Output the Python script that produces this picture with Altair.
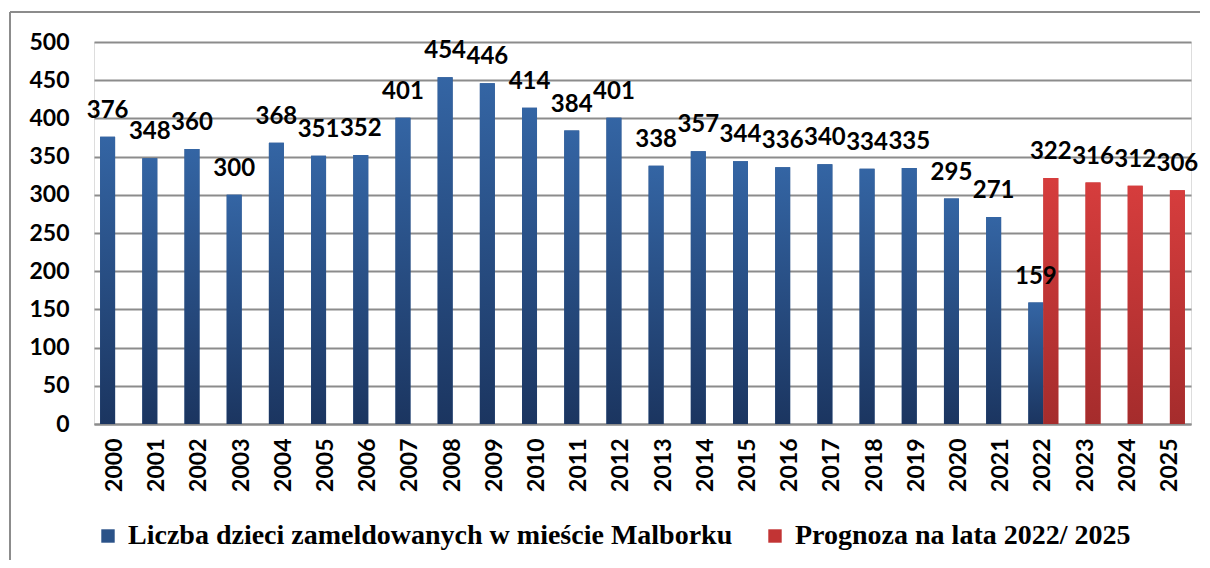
import altair as alt
import pandas as pd

years_blue = [str(y) for y in range(2000, 2023)]
values_blue = [376, 348, 360, 300, 368, 351, 352, 401, 454, 446, 414, 384, 401,
               338, 357, 344, 336, 340, 334, 335, 295, 271, 159]
years_red = ["2022", "2023", "2024", "2025"]
values_red = [322, 316, 312, 306]
series_names = ["Liczba dzieci zameldowanych w mieście Malborku",
                "Prognoza na lata 2022/ 2025"]
all_years = [str(y) for y in range(2000, 2026)]

df = pd.DataFrame({
    "Rok": years_blue + years_red,
    "Liczba": values_blue + values_red,
    "Seria": [series_names[0]] * len(years_blue) + [series_names[1]] * len(years_red),
})

blue_grad = alt.Gradient(gradient="linear", x1=0, x2=0, y1=0, y2=1,
                         stops=[alt.GradientStop(color="#3465a4", offset=0),
                                alt.GradientStop(color="#1b3560", offset=1)])
red_grad = alt.Gradient(gradient="linear", x1=0, x2=0, y1=0, y2=1,
                        stops=[alt.GradientStop(color="#d63d3d", offset=0),
                               alt.GradientStop(color="#a52c2c", offset=1)])

x_enc = alt.X("Rok:O", sort=all_years,
              scale=alt.Scale(domain=all_years, paddingInner=0.29, paddingOuter=0.145),
              axis=alt.Axis(title=None, labelAngle=-90, labelPadding=14, ticks=False,
                            domain=True, domainColor="#8c8c8c", domainWidth=2,
                            labelFont="Lato", labelFontWeight="bold", labelFontSize=23,
                            labelColor="#000000"))
y_enc = alt.Y("Liczba:Q",
              scale=alt.Scale(domain=[0, 500], nice=False),
              axis=alt.Axis(title=None, values=list(range(0, 501, 50)), ticks=False,
                            domain=False, grid=True, gridColor="#8c8c8c", gridWidth=2,
                            labelPadding=25, labelFont="Lato", labelFontWeight="bold",
                            labelFontSize=23, labelColor="#000000"))
xoff = alt.XOffset("Seria:N", scale=alt.Scale(domain=series_names, paddingInner=0))

base = alt.Chart(df)

legend_bars = base.mark_bar().encode(
    x=x_enc, y=y_enc, xOffset=xoff,
    color=alt.Color("Seria:N",
                    scale=alt.Scale(domain=series_names, range=["#2a5288", "#c23434"]),
                    legend=alt.Legend(title=None, orient="none", direction="horizontal",
                                      legendX=0, legendY=480, symbolType="square",
                                      symbolSize=180, symbolStrokeWidth=0,
                                      labelFont="Liberation Serif", labelFontWeight="bold",
                                      labelFontSize=28, labelColor="#000000",
                                      labelLimit=1000, columnPadding=28, labelOffset=6,
                                      padding=0)),
)

blue_bars = base.transform_filter(alt.datum.Seria == series_names[0]).mark_bar(
    color=blue_grad).encode(x=x_enc, y=y_enc, xOffset=xoff)
red_bars = base.transform_filter(alt.datum.Seria == series_names[1]).mark_bar(
    color=red_grad).encode(x=x_enc, y=y_enc, xOffset=xoff)

labels = base.mark_text(font="Lato", fontWeight="bold", fontSize=24, color="#000000",
                        baseline="alphabetic", dy=-19).encode(
    x=x_enc, y=y_enc, xOffset=xoff, text="Liczba:Q")

frame_data = alt.Data(values=[{"a": 1}])
frame_top = alt.Chart(frame_data).mark_rule(color="#8c8c8c", strokeWidth=2).encode(
    x=alt.value(-84), x2=alt.value(1106), y=alt.value(-30))
frame_left = alt.Chart(frame_data).mark_rule(color="#8c8c8c", strokeWidth=2).encode(
    x=alt.value(-84), y=alt.value(-30), y2=alt.value(518))

chart = alt.layer(legend_bars, blue_bars, red_bars, labels, frame_top, frame_left).properties(
    width=1097, height=382,
    padding={"left": 1, "top": 3, "right": 0, "bottom": 0},
).configure_view(stroke=None).configure(background="#ffffff")

chart.save("out.html", embed_options={"renderer": "svg", "actions": False})
